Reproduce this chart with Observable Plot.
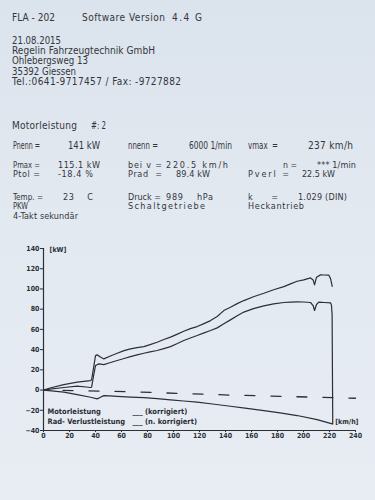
<!DOCTYPE html>
<html><head><meta charset="utf-8">
<script src="https://cdn.jsdelivr.net/npm/d3@7"></script>
<script src="https://cdn.jsdelivr.net/npm/@observablehq/plot@0.6"></script>
<style>
html,body{margin:0;padding:0;}
body{width:375px;height:500px;overflow:hidden;position:relative;
 background:linear-gradient(180deg,#dbe3ec 0%,#e3e9f1 45%,#e8edf4 100%);
 font-family:"DejaVu Sans Condensed","DejaVu Sans",sans-serif;color:#2f3238;}
#head{position:absolute;left:0;top:0;}
#head text{white-space:pre;}
#chart{position:absolute;left:0;top:233px;}
</style></head><body>
<svg id="head" width="375" height="233"></svg>
<div id="chart"></div>
<script>
// ---- chart data (km/h, kW) ----
const xTicks = [0,20,40,60,80,100,120,140,160,180,200,220,240];
const yTicks = [-40,-20,0,20,40,60,80,100,120,140];

const motorKmh = [0,5,15.6,25.9,36.2,37.0,38.5,40.0,41.3,43.5,46.4,51,56.7,62,66.9,72,77.2,82,87.4,92.6,97.7,103,107.9,113,118.2,123,128.5,133.6,138.7,143.8,149,154.1,161.5,169.5,177,184.9,190,195.1,200.2,205.4,207.4,208.5,210,213.1,216,219.5,220.8,222.1];
const motorKw  = [0,2,5.4,7.8,9.4,10.1,22,34.1,34.8,33,30.8,33.5,36.4,39,40.7,42,43.0,45,47.3,50,52.3,55.3,58.2,60.8,62.8,65.5,68.7,72.7,78.6,81.9,85.5,88.5,92.3,95.7,99.2,102.3,105,107.6,109,110.9,108.9,104,111.6,113.9,113.8,113.6,110.2,102.6];

const radKmh = [0,5,15.6,25.9,33,36.2,37.0,38.5,40.0,42.6,46.4,51,56.7,62,66.9,72,77.2,82,87.4,92.6,97.7,103,107.9,113,118.2,123,128.5,133.6,138.7,143.8,149,154.1,161.5,169.5,177,184.9,190,195.1,200.2,205.4,207.4,208.5,210,211.8,216,220.8,221.5,222.0,222.5];
const radKw  = [0,1,2.5,3.8,3,2.5,2.8,14,24.2,25.9,25.2,27,29.2,31.2,33.1,34.8,36.4,37.7,39.1,41,43,46,49,51.5,53.9,56.3,58.9,61.5,65.5,69.4,73.5,77.1,80.5,83.2,85.2,86.6,87,87.2,87.1,86.6,83.6,78.7,84.6,86.9,86.6,86.3,84,75,-33.5];

const lossKmh = [0,8,15.6,25.9,36.2,41.3,43.8,46.4,51,56.7,66.9,77.2,87.4,97.7,107.9,118.2,130,143.8,155,169.5,182,195.1,210.5,222.1];
const lossKw  = [0,-1,-2.1,-4.5,-7.1,-8.7,-7.1,-5.5,-5.8,-6.2,-6.9,-7.4,-8.5,-9.8,-10.8,-12.0,-13.8,-16,-17.8,-20.3,-22.5,-25.2,-29.2,-33.5];

const dashKmh = [15,67,144,225,240];
const dashKw  = [-0.3,-1.7,-5,-7.6,-8.1];

const legendNames = ["Motorleistung","Rad- Verlustleistung"];
const legendKinds = ["___ (korrigiert)","___ (n. korrigiert)"];
const unitY = "[kW]", unitX = "[km/h]";

// ---- header texts ----
const headerTexts = [
 "FLA - 202","Software Version","4.4 G",
 "21.08.2015","Regelin Fahrzeugtechnik GmbH","Ohlebergsweg 13","35392 Giessen","Tel.:0641-9717457 / Fax: -9727882",
 "Motorleistung","#: 2",
 "Pnenn =","141 kW","nnenn =","6000 1/min","vmax  =","237 km/h",
 "Pmax =","115.1 kW","bei v =","220.5 km/h","n =","*** 1/min",
 "Ptol =","-18.4 %","Prad  =","89.4 kW","Pverl =","22.5 kW",
 "Temp. =","23    C","Druck =","989    hPa","k     =","1.029 (DIN)",
 "PKW","Schaltgetriebe","Heckantrieb",
 "4-Takt sekundär"
];
// layout: [x, baseline, target width, font size]
const headerLayout = [
 [12,20.7,43,10],[82,20.7,83,10],[172,20.7,30,10],
 [12,43.5,49,10],[12,53.9,143,10],[12,64.3,76,10],[12,74.7,64,10],[12,85.1,169,10],
 [12,129,65,10],[91,129,15,10],
 [13,148.5,27,10],[68,148.5,32,10],[128,148.5,30,10],[189,148.5,43,10],[248,148.5,30,10],[308,148.5,45,10],
 [13,167.5,27,9],[58,167.5,42,9],[128,167.5,34,9],[166,167.5,62,9],[283,167.5,14,9],[317,167.5,39,9],
 [13,177,27,9],[58,177,35,9],[128,177,34,9],[176,177,34,9],[248,177,41,9],[302,177,33,9],
 [13,199.5,30,9],[63,199.5,30,9],[128,199.5,33,9],[166,199.5,47,9],[248,199.5,30,9],[298,199.5,49,9],
 [13,209,15,9],[128,209,77,9],[248,209,56,9],
 [13,218.5,65,9]
];

const ink = "#2c2f35";
const head = d3.select("#head");
headerTexts.forEach((t,i)=>{
  const [x,y,len,fs] = headerLayout[i];
  const el = head.append("text").attr("x",x).attr("y",y)
    .attr("font-family",'"DejaVu Sans Condensed","DejaVu Sans",sans-serif')
    .attr("font-size",fs).attr("fill","#33363c").text(t);
  const natural = el.node().getComputedTextLength();
  el.attr("textLength",len).attr("lengthAdjust", natural > len ? "spacingAndGlyphs" : "spacing");
});

const rows = (xs, ys) => xs.map((x,i)=>({kmh:x, kw:ys[i]}));
const motor = rows(motorKmh, motorKw);
const rad = rows(radKmh, radKw);
const loss = rows(lossKmh, lossKw);
const dash = rows(dashKmh, dashKw);

const plot = Plot.plot({
  width: 375, height: 222,
  marginLeft: 43, marginRight: 20, marginTop: 15, marginBottom: 25,
  style: {background:"transparent", color: ink, fontFamily:'"DejaVu Sans Condensed","DejaVu Sans",sans-serif', fontSize:"7px", fontWeight:"bold", overflow:"visible"},
  x: {domain:[0,240]},
  y: {domain:[-40,140]},
  marks: [
    Plot.axisY(yTicks, {tickSize:3, tickPadding:1, label:null, stroke: ink, fill: ink}),
    Plot.axisX(xTicks, {tickSize:2, tickPadding:1, label:null, stroke: ink, fill: ink}),
    Plot.ruleX([0], {stroke: ink, strokeWidth:1.2}),
    Plot.ruleY([-40], {stroke: ink, strokeWidth:1.2}),
    Plot.line(dash, {x:"kmh", y:"kw", stroke: ink, strokeWidth:1.3, strokeDasharray:"10,16"}),
    Plot.line(loss, {x:"kmh", y:"kw", stroke: ink, strokeWidth:1.2}),
    Plot.line(rad, {x:"kmh", y:"kw", stroke: ink, strokeWidth:1.2}),
    Plot.line(motor, {x:"kmh", y:"kw", stroke: ink, strokeWidth:1.2}),
    Plot.text([unitY], {text:d=>d, frameAnchor:"top-left", dx:6, dy:-1, textAnchor:"start", fill: ink}),
    Plot.text([unitX], {text:d=>d, frameAnchor:"bottom-right", dx:3, dy:-7, textAnchor:"end", fill: ink}),
    Plot.text(legendNames, {text:d=>d, frameAnchor:"bottom-left", dx:4, textAnchor:"start", fill: ink, fontSize:7.5}),
    Plot.text(legendKinds, {text:d=>d, frameAnchor:"bottom-left", dx:89, textAnchor:"start", fill: ink, fontSize:7.5})
  ]
});
// offset the two legend rows (frameAnchor puts both rows at the same spot)
d3.select(plot).selectAll("g[aria-label=text]").each(function(_, gi){
  if (gi < 2) return;
  d3.select(this).selectAll("text").attr("transform", function(d, i){
    const t = d3.select(this).attr("transform") || "";
    return t + ` translate(0,${i === 0 ? -17 : -7})`;
  });
});
document.getElementById("chart").appendChild(plot);
</script>
</body></html>
